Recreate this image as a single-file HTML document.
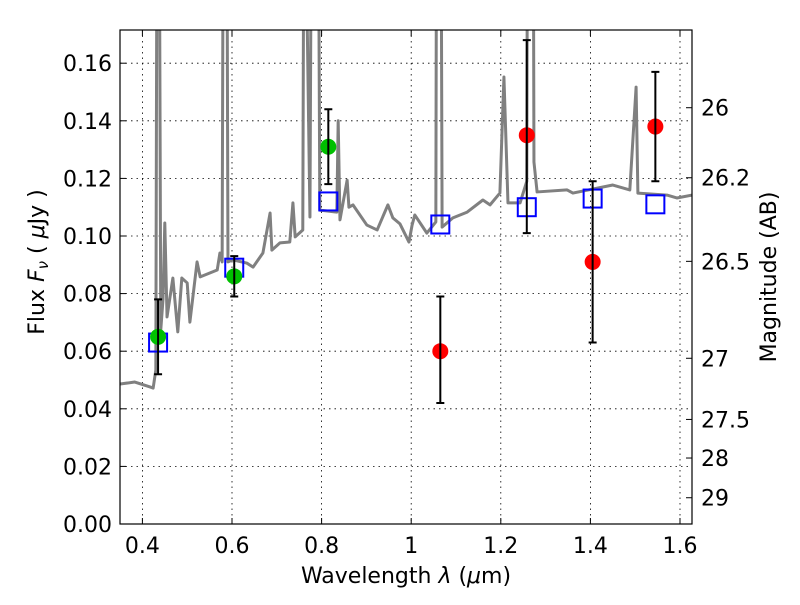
<!DOCTYPE html>
<html><head><meta charset="utf-8"><style>
body{margin:0;background:#fff}
svg text{font-family:"DejaVu Sans","Liberation Sans",sans-serif;fill:#000}
</style></head><body>
<svg id="c" width="800" height="600" viewBox="0 0 800 600" xmlns="http://www.w3.org/2000/svg">
<defs><clipPath id="pa"><rect x="120" y="30" width="572" height="494"/></clipPath></defs>
<rect x="0" y="0" width="800" height="600" fill="#fff"/>
<g id="grid"></g>
<g id="spec" clip-path="url(#pa)"></g>
<g id="marks" clip-path="url(#pa)"></g>
<rect x="120" y="30" width="572" height="494" fill="none" stroke="#000" stroke-width="1.2"/>
<g id="axes"></g>
<text x="406" y="583" font-size="22" text-anchor="middle">Wavelength  <tspan font-style="italic">λ</tspan> (<tspan font-style="italic">μ</tspan>m)</text>
<text transform="translate(44,262) rotate(-90)" font-size="22" text-anchor="middle">Flux  <tspan font-style="italic">F</tspan><tspan font-style="italic" font-size="15" dy="4">ν</tspan><tspan dy="-4">  ( </tspan><tspan font-style="italic">μ</tspan>Jy )</text>
<text transform="translate(776,277) rotate(-90)" font-size="22" text-anchor="middle">Magnitude (AB)</text>
</svg>
<script>
const xTicks=[0.4,0.6,0.8,1.0,1.2,1.4,1.6];
const xTickLabels=["0.4","0.6","0.8","1","1.2","1.4","1.6"];
const yTicks=[0,0.02,0.04,0.06,0.08,0.10,0.12,0.14,0.16];
const yTickLabels=["0.00","0.02","0.04","0.06","0.08","0.10","0.12","0.14","0.16"];
const magTicks=[26,26.2,26.5,27,27.5,28,29];
const magTickLabels=["26","26.2","26.5","27","27.5","28","29"];
const specLam=[0.350,0.383,0.417,0.424,0.430,0.433,0.437,0.441,0.446,0.450,0.455,0.468,0.479,0.488,0.500,0.506,0.522,0.529,0.567,0.573,0.578,0.581,0.588,0.591,0.602,0.633,0.647,0.669,0.685,0.689,0.707,0.729,0.736,0.741,0.758,0.761,0.774,0.778,0.792,0.796,0.834,0.837,0.841,0.857,0.861,0.870,0.901,0.924,0.948,0.959,0.975,0.995,1.002,1.008,1.035,1.055,1.057,1.066,1.069,1.093,1.125,1.160,1.176,1.198,1.207,1.216,1.243,1.258,1.260,1.272,1.274,1.281,1.348,1.361,1.450,1.488,1.502,1.506,1.571,1.593,1.627];
const specFlux=[0.0486,0.0493,0.0476,0.0472,0.0535,0.25,0.25,0.0674,0.078,0.1045,0.0719,0.0854,0.0667,0.0854,0.0837,0.0701,0.0910,0.0858,0.0882,0.0941,0.091,0.25,0.25,0.091,0.0917,0.0906,0.0892,0.0941,0.108,0.0951,0.0976,0.0979,0.1115,0.0997,0.1021,0.25,0.1066,0.25,0.25,0.109,0.1083,0.140,0.1056,0.1194,0.110,0.1108,0.1038,0.1021,0.1108,0.1063,0.1042,0.0979,0.1038,0.1073,0.101,0.1049,0.25,0.25,0.1031,0.1063,0.1083,0.1125,0.1108,0.1149,0.1552,0.1115,0.1115,0.119,0.25,0.25,0.1257,0.1153,0.116,0.1149,0.1177,0.116,0.1517,0.1149,0.1142,0.1132,0.1142];
const modelLam=[0.435,0.605,0.815,1.065,1.258,1.405,1.545];
const modelFlux=[0.063,0.089,0.112,0.104,0.110,0.113,0.111];
const greenLam=[0.435,0.605,0.815];
const greenFlux=[0.065,0.086,0.131];
const greenLo=[0.052,0.079,0.118];
const greenHi=[0.078,0.093,0.144];
const redLam=[1.065,1.258,1.405,1.545];
const redFlux=[0.060,0.135,0.091,0.138];
const redLo=[0.042,0.101,0.063,0.119];
const redHi=[0.079,0.168,0.119,0.157];

const NS="http://www.w3.org/2000/svg";
const X=v=>120+(v-0.35)*448;
const Y=v=>524-v*2880;
const magToFlux=m=>Math.pow(10,(23.9-m)/2.5);
function mk(parent,tag,attrs){const e=document.createElementNS(NS,tag);for(const k in attrs)e.setAttribute(k,attrs[k]);document.getElementById(parent).appendChild(e);return e;}

xTicks.forEach((t,i)=>{
  const x=X(t);
  const g=mk('grid','line',{x1:x,x2:x,y1:30,y2:524,stroke:'#000','stroke-width':0.8,'stroke-dasharray':'1.5,4'});
  
  
  mk('axes','line',{x1:x,x2:x,y1:524,y2:518,stroke:'#000'});
  mk('axes','line',{x1:x,x2:x,y1:30,y2:36,stroke:'#000'});
  const tx=mk('axes','text',{x:x,y:553,'font-size':22,'text-anchor':'middle'});
  tx.textContent=xTickLabels[i];
  
  
});
yTicks.forEach((t,i)=>{
  const y=Y(t);
  const g=mk('grid','line',{x1:120,x2:692,y1:y,y2:y,stroke:'#000','stroke-width':0.8,'stroke-dasharray':'1.5,4'});
  
  
  mk('axes','line',{x1:120,x2:126,y1:y,y2:y,stroke:'#000'});
  const tx=mk('axes','text',{x:112,y:y+8,'font-size':22,'text-anchor':'end'});
  tx.textContent=yTickLabels[i];
  
  
});
magTicks.forEach((m,i)=>{
  const y=Y(magToFlux(m));
  mk('axes','line',{x1:692,x2:686,y1:y,y2:y,stroke:'#000'});
  const tx=mk('axes','text',{x:701,y:y+8,'font-size':22});
  tx.textContent=magTickLabels[i];
  
  
});

const sp=mk('spec','polyline',{points:specLam.map((l,i)=>X(l)+','+Y(specFlux[i])).join(' '),fill:'none',stroke:'#808080','stroke-width':3,'stroke-linejoin':'round'});



modelLam.forEach((l,i)=>{
  const r=mk('marks','rect',{x:X(l)-9,y:Y(modelFlux[i])-9,width:18,height:18,fill:'none',stroke:'#0000ff','stroke-width':2});
  
  
});
function pts(lam,f,lo,hi,color,name){
  lam.forEach((l,i)=>{
    const x=X(l);
    const c=mk('marks','circle',{cx:x,cy:Y(f[i]),r:8,fill:color});
    
    
    const e=mk('marks','path',{d:`M${x},${Y(lo[i])}V${Y(hi[i])}M${x-4},${Y(lo[i])}H${x+4}M${x-4},${Y(hi[i])}H${x+4}`,stroke:'#000','stroke-width':2,fill:'none'});
    
    
  });
}
pts(greenLam,greenFlux,greenLo,greenHi,'#00c000','hst');
pts(redLam,redFlux,redLo,redHi,'#ff0000','ir');
</script>
</body></html>
